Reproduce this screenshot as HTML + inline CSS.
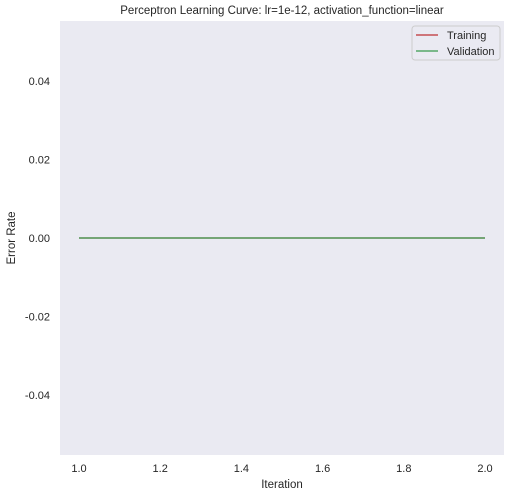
<!DOCTYPE html>
<html><head><meta charset="utf-8"><style>
body{margin:0;background:#fff;}
svg text{font-family:"Liberation Sans",sans-serif;fill:#262626;}
</style></head><body>
<svg width="512" height="496">
<rect x="60" y="21" width="444" height="434" fill="#eaeaf2"/>
<text x="282" y="14" font-size="11.5" text-anchor="middle">Perceptron Learning Curve: lr=1e-12, activation_function=linear</text>
<g id="xt"></g><g id="yt"></g><g id="lines"></g>
<text x="282" y="488" font-size="11.5" text-anchor="middle">Iteration</text>
<text x="15" y="238" font-size="11.5" text-anchor="middle" transform="rotate(-90 15 238)">Error Rate</text>
<g>
<rect x="412" y="26" width="88" height="34" rx="3" fill="#eaeaf2" stroke="#cccccc"/>
<line x1="416" y1="35" x2="438" y2="35" stroke="#c44e52" stroke-width="1.5"/>
<text x="447" y="39" font-size="11">Training</text>
<line x1="416" y1="51" x2="438" y2="51" stroke="#55a868" stroke-width="1.5"/>
<text x="447" y="55" font-size="11">Validation</text>
</g>
</svg>
<script>
const iterations=[1,2];
const training=[0,0];
const validation=[0,0];
const xTicks=[1.0,1.2,1.4,1.6,1.8,2.0];
const yTicks=[-0.04,-0.02,0,0.02,0.04];
const NS="http://www.w3.org/2000/svg";
const xs=v=>79+(v-1)*406;
const ys=v=>238-v*3925;
function mk(t,a,p){const e=document.createElementNS(NS,t);for(const k in a)e.setAttribute(k,a[k]);p.appendChild(e);return e;}
const xt=document.getElementById('xt'),yt=document.getElementById('yt'),ln=document.getElementById('lines');
xTicks.forEach(v=>{const t=mk('text',{x:xs(v),y:472,'font-size':11,'text-anchor':'middle'},xt);t.textContent=v.toFixed(1);

});
yTicks.forEach(v=>{const t=mk('text',{x:50,y:ys(v)+4,'font-size':11,'text-anchor':'end'},yt);t.textContent=v.toFixed(2);

});
function line(d,c,n){const p=mk('polyline',{points:iterations.map((x,i)=>xs(x)+','+ys(d[i])).join(' '),fill:'none',stroke:c,'stroke-width':1.5},ln);

}
line(training,'#c44e52','training-line');
line(validation,'#55a868','validation-line');
</script>
</body></html>
